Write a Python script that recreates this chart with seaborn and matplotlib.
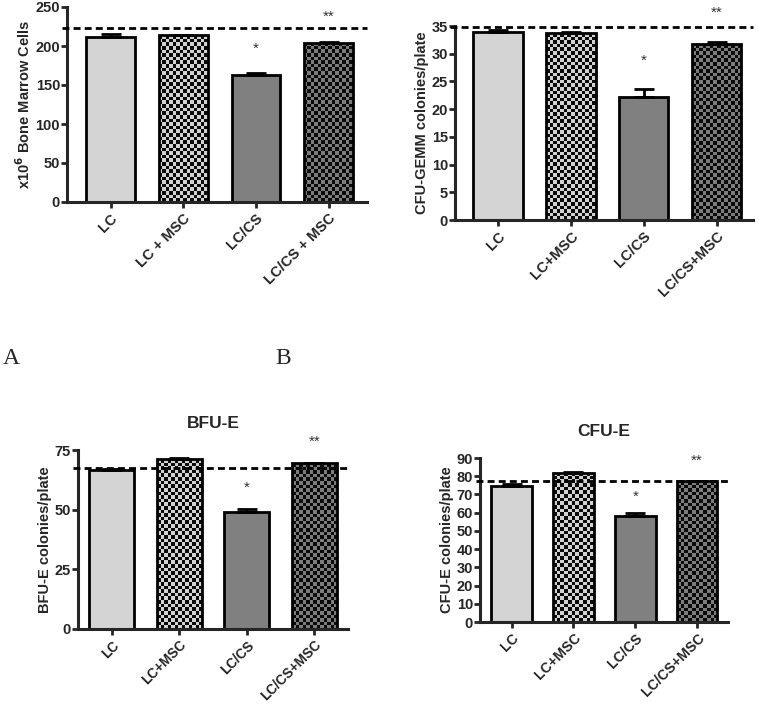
import numpy as np
import pandas as pd
import matplotlib
matplotlib.use("Agg")
import matplotlib.pyplot as plt
from matplotlib.colors import ListedColormap
import seaborn as sns

sns.set_style("ticks")
plt.rcParams['font.family'] = ['Liberation Sans', 'DejaVu Sans']

# ---------------- data ----------------
cats_A = ["LC", "LC + MSC", "LC/CS", "LC/CS + MSC"]
cats = ["LC", "LC+MSC", "LC/CS", "LC/CS+MSC"]

vals_A = [212, 213.5, 162.5, 204]
err_A = [4, 0.8, 3.5, 0.8]
ref_A = 223
stars_A = [197, 238]

vals_B = [34.0, 33.7, 22.2, 31.75]
err_B = [0.3, 0.2, 1.4, 0.4]
ref_B = 34.8
stars_B = [28.7, 37.3]

vals_C = [66.6, 71.2, 49.2, 69.4]
err_C = [0.5, 0.3, 1.0, 0.3]
ref_C = 67.6
stars_C = [59, 78.5]

vals_D = [74.9, 81.8, 58.3, 77.2]
err_D = [1.1, 0.3, 1.3, 0.3]
ref_D = 77.2
stars_D = [68.7, 88.7]

# ---------------- style ----------------
solid_colors = ["#d4d4d4", "#d4d4d4", "#808080", "#808080"]
checker = {1: ("#d2d2d2", "#0a0a0a"), 3: ("#7c7c7c", "#0a0a0a")}

W, H = 759, 704
fig = plt.figure(figsize=(W / 100, H / 100), dpi=100)


def px_axes(l, r, t, b):
    return fig.add_axes([l / W, 1 - b / H, (r - l) / W, (b - t) / H])


panels = [
    dict(box=(67, 367, 7, 202), cats=cats_A, vals=vals_A, err=err_A, ref=ref_A,
         stars=stars_A, ylim=250, yticks=np.arange(0, 251, 50), xlim=(-0.6, 3.53),
         ylabel=r"x10$^{\mathbf{6}}$ Bone Marrow Cells", title=None, width=0.67,
         xfs=10.5),
    dict(box=(455, 753, 26, 220), cats=cats, vals=vals_B, err=err_B, ref=ref_B,
         stars=stars_B, ylim=35, yticks=np.arange(0, 36, 5), xlim=(-0.59, 3.5),
         ylabel="CFU-GEMM colonies/plate", title=None, width=0.68, xfs=10.5),
    dict(box=(78, 348, 450, 629), cats=cats, vals=vals_C, err=err_C, ref=ref_C,
         stars=stars_C, ylim=75, yticks=np.arange(0, 76, 25), xlim=(-0.5, 3.5),
         ylabel="BFU-E colonies/plate", title="BFU-E", width=0.67, xfs=9.8),
    dict(box=(480, 728, 458, 622), cats=cats, vals=vals_D, err=err_D, ref=ref_D,
         stars=stars_D, ylim=90, yticks=np.arange(0, 91, 10), xlim=(-0.51, 3.5),
         ylabel="CFU-E colonies/plate", title="CFU-E", width=0.66, xfs=10.2),
]

axes = []
for p in panels:
    ax = px_axes(*p["box"])
    df = pd.DataFrame({"group": p["cats"], "value": p["vals"]})
    sns.barplot(data=df, x="group", y="value", hue="group", palette=solid_colors,
                order=p["cats"], hue_order=p["cats"], legend=False,
                edgecolor="black", linewidth=2, width=p["width"], ax=ax,
                errorbar=None, saturation=1)
    ax.errorbar(np.arange(len(p["cats"])), p["vals"],
                yerr=[np.zeros(len(p["err"])), p["err"]], fmt="none",
                ecolor="black", elinewidth=2, capsize=7, capthick=2, zorder=4)
    ax.plot([-0.018, 1.0], [p["ref"], p["ref"]], transform=ax.get_yaxis_transform(),
            color="black", lw=2, ls=(0, (2.5, 1.5)), zorder=6, clip_on=False)
    ax.text(2, p["stars"][0], "*", ha="center", va="center", fontsize=11,
            color="#333333", clip_on=False)
    ax.text(3, p["stars"][1], "**", ha="center", va="center", fontsize=11,
            color="#333333", clip_on=False)
    ax.set_xlim(*p["xlim"])
    ax.set_ylim(0, p["ylim"])
    ax.set_yticks(p["yticks"])
    ax.set_xlabel("")
    ax.set_ylabel(p["ylabel"], fontsize=10.5, fontweight="bold", labelpad=2)
    if p["title"]:
        ax.set_title(p["title"], fontsize=12.5, fontweight="bold", pad=16)
    sns.despine(ax=ax)
    for s in ("left", "bottom"):
        ax.spines[s].set_linewidth(2.2)
    ax.tick_params(axis="both", direction="out", length=4, width=2, labelsize=10.5)
    ax.tick_params(axis="y", pad=1)
    ax.tick_params(axis="x", pad=2.5)
    for lab in ax.get_yticklabels():
        lab.set_fontweight("bold")
    ax.set_xticks(range(len(p["cats"])))
    ax.set_xticklabels(p["cats"], rotation=45, ha="right", rotation_mode="anchor",
                       fontweight="bold", fontsize=p["xfs"])
    axes.append(ax)

# checkerboard fill for MSC-treated bars
fig.canvas.draw()
for ax, p in zip(axes, panels):
    bars = sorted([b for b in ax.patches], key=lambda b: b.get_x())
    for idx, (c_light, c_dark) in checker.items():
        b = bars[idx]
        x0, y0, w, h = b.get_x(), b.get_y(), b.get_width(), b.get_height()
        (dx0, dy0), (dx1, dy1) = ax.transData.transform([(x0, y0), (x0 + w, y0 + h)])
        nx = max(1, int(round(abs(dx1 - dx0) / 3.6)))
        ny = max(1, int(round(abs(dy1 - dy0) / 3.6)))
        grid = (np.add.outer(np.arange(ny), np.arange(nx)) % 2).astype(float)
        im = ax.imshow(grid, cmap=ListedColormap([c_light, c_dark]), vmin=0, vmax=1,
                       extent=(x0, x0 + w, y0, y0 + h), origin="lower",
                       aspect="auto", interpolation="nearest", zorder=b.get_zorder())
        im.set_clip_path(b)
        b.set_facecolor("none")
        b.set_zorder(b.get_zorder() + 0.1)
    ax.set_xlim(*p["xlim"])
    ax.set_ylim(0, p["ylim"])

# panel letters
fig.text(3 / W, 1 - 364 / H, "A", family="Liberation Serif", fontsize=17,
         ha="left", va="baseline")
fig.text(275 / W, 1 - 364 / H, "B", family="Liberation Serif", fontsize=17,
         ha="left", va="baseline")

fig.savefig("out.png", dpi=100, facecolor="white")
